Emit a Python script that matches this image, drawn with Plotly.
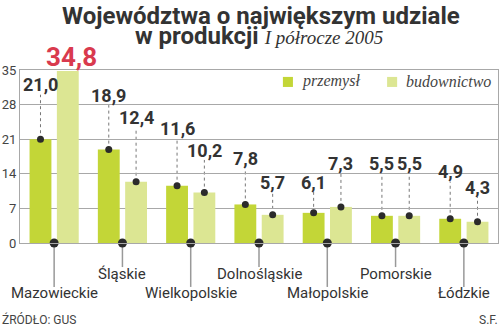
import plotly.graph_objects as go

regions = ["Mazowieckie", "Śląskie", "Wielkopolskie", "Dolnośląskie",
           "Małopolskie", "Pomorskie", "Łódzkie"]
przemysl = [21.0, 18.9, 11.6, 7.8, 6.1, 5.5, 4.9]
budownictwo = [34.8, 12.4, 10.2, 5.7, 7.3, 5.5, 4.3]
y_ticks = [0, 7, 14, 21, 28, 35]

# layout-only: heights (in axis units) where the value labels sit
lab_p = [32.0, 29.9, 23.1, 17.0, 12.3, 16.0, 14.4]
lab_b = [37.6, 25.3, 18.8, 12.3, 16.0, 16.0, 11.3]
Y_MAX = 35
BIG = 30  # values above this get the large red label, no leader line

C_P = "#c3d637"
C_B = "#dce693"
GRID = "#a8a8a8"
DARK = "#2b2b2b"

xs = list(range(len(regions)))
fig = go.Figure()
fig.add_trace(go.Bar(x=xs, y=przemysl, width=0.32, offset=-0.36,
                     marker=dict(color=C_P, line=dict(width=0)), name="przemysł"))
fig.add_trace(go.Bar(x=xs, y=budownictwo, width=0.32, offset=0.04,
                     marker=dict(color=C_B, line=dict(width=0)), name="budownictwo"))

pts = [(x - 0.2, v) for x, v in zip(xs, przemysl)] + \
      [(x + 0.2, v) for x, v in zip(xs, budownictwo)]
pts = [p for p in pts if p[1] <= BIG]
fig.add_trace(go.Scatter(x=[p[0] for p in pts], y=[p[1] for p in pts], mode="markers",
                         marker=dict(size=7, color=DARK), cliponaxis=False))
fig.add_trace(go.Scatter(x=xs, y=[0] * len(xs), mode="markers",
                         marker=dict(size=9, color=DARK), cliponaxis=False))

shapes = []
ann = []
def fmt(v):
    return f"{v:.1f}".replace(".", ",")

for i in xs:
    for x, v, ly in ((i - 0.2, przemysl[i], lab_p[i]),
                     (i + 0.2, budownictwo[i], lab_b[i])):
        big = v > BIG
        if not big:
            shapes.append(dict(type="line", xref="x", yref="y", x0=x, x1=x,
                               y0=v, y1=ly - 2.0, layer="below",
                               line=dict(color="#777", width=1, dash="3px,3px")))
        ann.append(dict(x=x, y=ly / Y_MAX, xref="x", yref="paper", text=fmt(v),
                        showarrow=False, xshift=4 if big else 0,
                        xanchor="center", yanchor="middle",
                        font=dict(family="Roboto", size=26 if big else 18,
                                  color="#d93a4e" if big else "#333", weight="bold")))
    low = (i % 2 == 0)
    shapes.append(dict(type="line", xref="x", yref="paper", x0=i, x1=i, y0=0,
                       y1=-0.254 if low else -0.139,
                       line=dict(color="#999", width=1.5), layer="below"))
    ann.append(dict(x=i, y=-0.289 if low else -0.179, xref="x", yref="paper",
                    text=regions[i], showarrow=False, yanchor="middle",
                    font=dict(family="Roboto", size=15, color="#333")))

# legend
for x0, col, txt in ((0.550, C_P, "przemysł"), (0.768, C_B, "budownictwo")):
    shapes.append(dict(type="rect", xref="paper", yref="paper", x0=x0, x1=x0 + 0.021,
                       y0=0.902, y1=0.960, fillcolor=col, line=dict(width=0)))
    ann.append(dict(x=x0 + 0.036, y=0.936, xref="paper", yref="paper", text=txt,
                    showarrow=False, xanchor="left", yanchor="middle",
                    font=dict(family="Liberation Serif", size=16, color="#444",
                              style="italic")))

# title
ann.append(dict(x=0.504, y=1.315, xref="paper", yref="paper",
                text="<b>Województwa o największym udziale</b>", showarrow=False,
                yanchor="middle", font=dict(family="Roboto", size=24, color="#333")))
ann.append(dict(x=0.501, y=1.195, xref="paper", yref="paper",
                text="<b>w produkcji</b> <span style='font-family:Liberation Serif;font-size:19px;font-style:italic;font-weight:normal'>I półrocze 2005</span>",
                showarrow=False, yanchor="middle",
                font=dict(family="Roboto", size=24, color="#333")))
# footer
ann.append(dict(x=-0.042, y=-0.445, xref="paper", yref="paper", text="ŹRÓDŁO: GUS",
                showarrow=False, xanchor="left", yanchor="middle",
                font=dict(family="Roboto", size=12, color="#444")))
ann.append(dict(x=1.004, y=-0.445, xref="paper", yref="paper", text="S.F.",
                showarrow=False, xanchor="right", yanchor="middle",
                font=dict(family="Roboto", size=12, color="#444")))

fig.update_layout(
    width=500, height=333, margin=dict(l=20, r=2, t=70, b=90),
    paper_bgcolor="white", plot_bgcolor="white", showlegend=False,
    barmode="overlay", shapes=shapes, annotations=ann,
    xaxis=dict(range=[-0.5, 6.5], showticklabels=False, showgrid=False,
               zeroline=False, showline=True, mirror=True, linecolor=GRID,
               linewidth=1, ticks=""),
    yaxis=dict(range=[0, Y_MAX], tickvals=y_ticks, showgrid=True, gridcolor=GRID,
               gridwidth=1, zeroline=False, showline=True, mirror=True,
               linecolor=GRID, linewidth=1, ticks="",
               tickfont=dict(family="Roboto", size=13, color="#444")),
)
fig.write_html("out.html")
